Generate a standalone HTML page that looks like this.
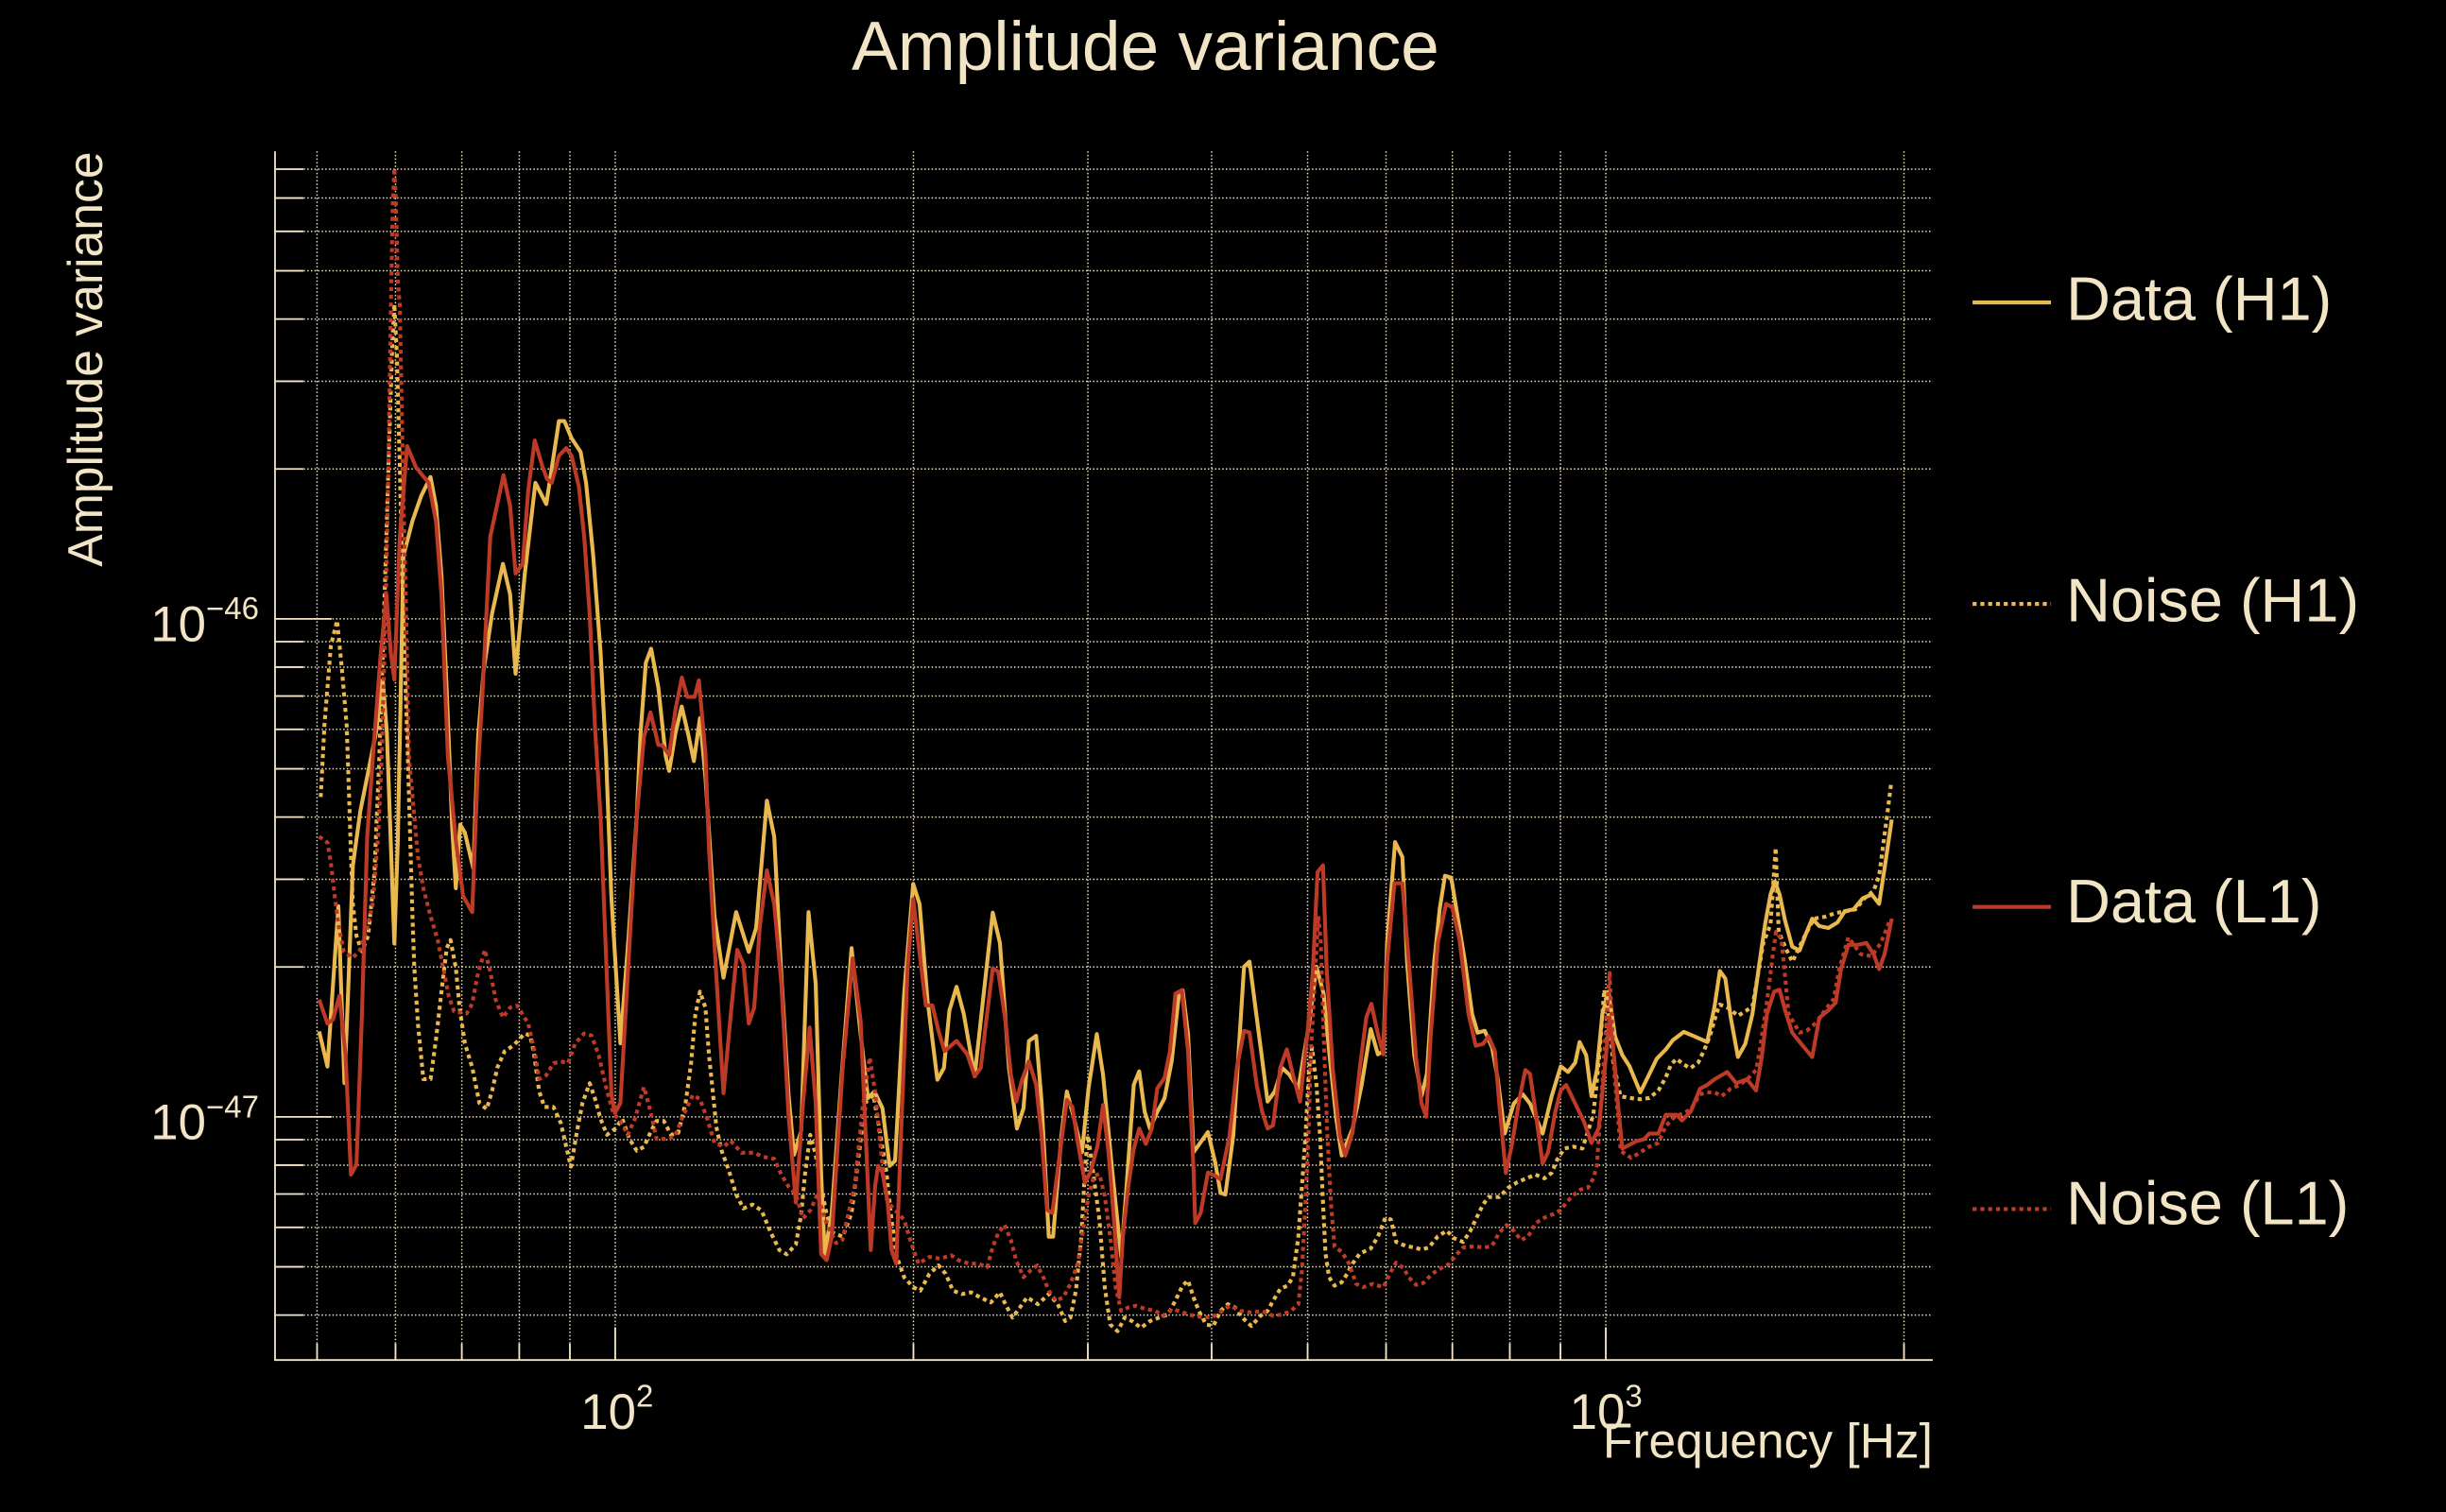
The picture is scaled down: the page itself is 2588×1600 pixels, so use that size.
<!DOCTYPE html>
<html>
<head>
<meta charset="utf-8">
<style>
html,body{margin:0;padding:0;background:#000;}
svg{display:block;}
text{font-family:"Liberation Sans",Arial,Helvetica,sans-serif;fill:#F2E5C6;}
</style>
</head>
<body>
<svg width="2588" height="1600" viewBox="0 0 1568 969.43" preserveAspectRatio="none" xmlns="http://www.w3.org/2000/svg">
<rect x="0" y="0" width="1568" height="969.43" fill="#000"/>

<!-- grid -->
<g stroke="#EFE3C4" stroke-width="0.9" stroke-dasharray="0.9 1.4" fill="none">
<path d="M203.25 97V872M253.53 97V872M296.04 97V872M332.86 97V872M365.34 97V872M394.4 97V872M585.55 97V872M697.37 97V872M776.71 97V872M838.25 97V872M888.53 97V872M931.04 97V872M967.86 97V872M1000.34 97V872M1029.4 97V872M1220.55 97V872"/>
<path d="M176.3 843.16H1239M176.3 812.22H1239M176.3 786.94H1239M176.3 765.56H1239M176.3 747.04H1239M176.3 730.71H1239M176.3 716.1H1239M176.3 619.98H1239M176.3 563.76H1239M176.3 523.86H1239M176.3 492.92H1239M176.3 467.64H1239M176.3 446.26H1239M176.3 427.74H1239M176.3 411.41H1239M176.3 396.8H1239M176.3 300.68H1239M176.3 244.46H1239M176.3 204.56H1239M176.3 173.62H1239M176.3 148.34H1239M176.3 126.96H1239M176.3 108.44H1239"/>
</g>

<!-- axes -->
<g stroke="#F2E5C6" stroke-width="1.1" fill="none">
<path d="M176.3 97V872.5M175.8 872H1239"/>
<path d="M176.3 843.16H194.5M176.3 812.22H194.5M176.3 786.94H194.5M176.3 765.56H194.5M176.3 747.04H194.5M176.3 730.71H194.5M176.3 716.1H212.6M176.3 619.98H194.5M176.3 563.76H194.5M176.3 523.86H194.5M176.3 492.92H194.5M176.3 467.64H194.5M176.3 446.26H194.5M176.3 427.74H194.5M176.3 411.41H194.5M176.3 396.8H212.6M176.3 300.68H194.5M176.3 244.46H194.5M176.3 204.56H194.5M176.3 173.62H194.5M176.3 148.34H194.5M176.3 126.96H194.5M176.3 108.44H194.5"/>
<path d="M203.25 872V861.5M253.53 872V861.5M296.04 872V861.5M332.86 872V861.5M365.34 872V861.5M394.4 872V851M585.55 872V861.5M697.37 872V861.5M776.71 872V861.5M838.25 872V861.5M888.53 872V861.5M931.04 872V861.5M967.86 872V861.5M1000.34 872V861.5M1029.4 872V851M1220.55 872V861.5"/>
</g>

<!-- series -->
<g fill="none" stroke-width="2.5" stroke-linejoin="round">
<polyline stroke="#E9B84F" points="204.6,661.3 209.9,683.8 216.9,581 220.8,694.5 223,640 226.2,555 231,520 236,495 241,470 245.4,436 248,470 250.5,540 252.8,605 255,540 258.6,356.5 264.4,334 270,318 276,305.8 279.5,324.4 283,369 286.4,443 289.9,531 292.2,569.5 295,528.7 298,533.8 303.4,556.8 306.5,472.6 310,430 315.4,393.6 322.4,361.5 327,381 330.5,432 336.3,369 343.2,309.6 350.2,323.2 358.3,270 361.8,270 366.4,281 372.2,289.8 375.7,309.6 380.3,356.5 385,418.4 388.5,484.6 391.9,574.6 397.7,669 403,600 408.2,523.6 410.5,472 414,425 417.4,415.9 422,440.6 426.7,484.6 429,494.3 433,470 437,453 441,470 444.8,488 448.7,460.4 452.2,498 458,587.4 463.8,626.9 471.9,584.8 480,610.3 484.7,595 491.6,513.4 496.3,536.4 500.9,625.6 505.5,702 509,740.4 513.6,725 518.3,584.8 522.9,630.7 526.4,753 528.7,804 533.2,777.7 539.5,690 545.9,607.9 551.7,663 556.4,704 560.6,699.8 565.7,710.6 570.3,747.5 573.8,744.2 579.6,637.1 585.4,566.7 589.5,579.7 594.6,641.4 600.9,692.3 605.1,684.7 608.6,647.9 613.2,632.7 617.8,650 624.8,690.1 630.6,637.1 636.4,585.1 641,604.6 646.8,684.7 651.9,723.6 656.1,710.6 659.6,667.4 664.2,664.1 667.7,706.3 672.3,792.9 675.1,792.9 680.4,728 683.9,699.8 688.5,717.1 693.6,738.8 697.8,697.7 703.1,663 707.1,689 712.9,749.6 718.7,805.9 722.2,760.4 726.8,695.5 730.3,686.9 733.8,712.8 737.2,723.6 741.9,712.8 746.5,704.2 751.1,680.4 755.8,637.1 758.1,634.9 761.6,663 765.1,738.8 774.3,725.8 779,745.3 782.4,764.8 785.5,765.9 790.6,728 797.5,619.8 801,616.5 805.6,652.2 812.6,706.3 817.2,699.8 821.9,684.7 826.5,689 832.3,697.7 839.2,656.5 843.9,619.8 848.5,637.1 852,673.9 856.6,717.1 860.1,740.9 867.1,723.6 872.9,695.5 878.7,659.8 883.3,676 886.8,673.9 889.2,604.6 894.3,539.9 899,549.5 902,616.6 906.6,676.5 911.3,702.8 914.7,688.5 919.4,616.6 922.9,583 926.3,561.5 930.3,562.7 934.4,587.8 939.1,616.6 943.7,650.1 947.2,662.1 951.8,660.9 956.5,671.7 960,690.9 964.6,726.8 970.4,707.6 976.2,701.6 980.8,707.6 988.9,726.8 994.7,702.8 1000.5,683.7 1005.2,687.3 1009.8,681.3 1012.6,668.1 1016.8,676.5 1020.2,702.8 1023.7,686.1 1027.2,650.1 1031.1,635.8 1035.3,664.5 1040,676.5 1044.6,683.7 1051.5,700.4 1056.2,690.9 1062,678.9 1067.8,672.9 1072.4,666.9 1079.4,661.6 1086.3,664.5 1094.4,668.1 1099.1,645.3 1102.5,622.6 1106,627.4 1109.5,652.5 1114.1,677.7 1118.8,669.3 1123.4,650.1 1128,616.6 1131.5,592.6 1135,573.5 1137.8,565.1 1140.8,573.5 1144.3,590.2 1148.9,607 1153.6,609.4 1158.2,597.4 1161.7,589 1166.3,593.8 1172.1,595 1177.9,591.4 1182.6,584.2 1188.3,583 1194.1,575.9 1199.9,573.5 1204.6,579.5 1208.1,556.7 1212.7,525.5"/>

<polyline stroke="#E9B84F" stroke-dasharray="2.6 2.4" points="205.6,511 208,464.5 212.1,414 216.1,397.9 219.1,428.2 222.2,464.5 223.8,510.9 225,549 226.2,579.7 228.5,600 232,610 236,600 240,560 243,490 246,400 249,300 251.5,220 252.8,195 254.5,230 256.3,300 258.6,400 261,470 263.3,549.1 264.4,587.4 265.6,620.5 267.9,656.2 271.4,691.9 276,691.9 279.5,666.4 283,635.8 286.4,607.8 288.8,602.7 292.2,620.5 294.6,646 298,669 302.7,684.3 307.3,707.2 312,711.1 315.4,699.6 318.9,684.3 323.5,674 329.3,670.2 336.3,662.6 339.8,663.9 342.1,674 345.6,699.6 349,709.8 354.8,709.8 359.5,720 363,735.3 366,748 369.9,725.1 373.4,707.2 378,694.5 381.5,704.7 385,717.4 389.1,727.6 394.2,723.8 398.9,717.4 403.5,730.2 408.2,737.8 412.8,735.3 417.4,725.1 420.9,718.7 425.5,718.7 430.2,727.6 434.8,726.3 439.5,707.2 443,681.7 445.7,651.1 448.7,635.8 452.2,646 454.5,676.6 456.9,699.6 459.2,722.5 462.6,737.8 467.3,750.6 471.9,765.9 476.6,774.8 482.4,772.3 488.2,776.1 494,790.1 499.7,801.6 504.4,804.2 510.2,797.8 513.6,778.6 516,753.1 519.4,727.6 522.9,740.4 526.4,760.8 529.9,778.6 533,790 540.2,792.9 545.9,777.7 549.4,749.6 552.9,721.5 555.2,706.3 559.9,702 563.3,721.5 568,749.6 571.5,782.1 574.9,805.9 579.6,818.9 585.4,825.3 590,827.5 595.8,816.7 601.6,811.3 606.2,816.7 610.9,827.5 616.7,829.7 622.5,828.6 628.3,831.8 635.2,835.1 641,828.6 644.5,836.2 649.1,844.8 653.8,838.3 658.4,831.8 665.4,836.2 672.3,829.7 678.1,836.2 682.8,847 686.2,844.8 689.7,827.5 693.2,792.9 695.5,749.6 697.4,728 699,738.8 704.8,782.1 708.2,825.3 711.7,849.2 716.4,853.5 721,844.8 725.6,847 731.4,851.3 737.2,847 743,844.8 748.8,842.7 753.4,834 758.1,824.3 761.6,821 765.1,831.8 768.5,840.5 773.2,849.2 777.8,850.2 782.4,840.5 787.1,836.2 791.7,838.3 796.4,844.8 802.2,850.2 807.9,843.7 812.6,840.5 816.1,834 820.7,826.4 825.3,824.3 828.8,818.9 832.3,792.9 834.6,760.4 836.9,728 839.2,684.7 841.1,671.7 843.9,695.5 846.2,728 848.1,771.2 849.7,803.7 852,818.9 855.5,824.3 860.1,822.1 863.6,816.7 867.1,810.2 871.7,803.7 878.7,800.5 883.3,792.9 888.1,780.7 891.6,781.9 895,796.3 900.8,798.7 906.6,799.9 911.3,801.1 915.9,799.9 921.7,792.7 927.5,789.1 932.1,793.9 937.9,796.3 942.6,789.1 946,781.9 950.7,772.3 954.2,767.5 961.1,767.5 966.9,761.5 972.7,758 978.5,755.5 984.3,753.1 990.1,755.5 994.7,752 998.2,743.6 1002.8,736.4 1008.6,735.2 1014.4,736.4 1021.4,714.8 1025,680 1028.4,634.6 1031,650 1034,680 1038.8,702.8 1044.6,704 1051.5,704.8 1057.3,704 1063.1,699.2 1067.8,690.9 1071.2,682.5 1074.7,678.9 1079.4,682.5 1083.5,684.9 1088.6,681.3 1092.1,674.1 1096.1,664.5 1100.2,650.1 1102.5,644.1 1108.3,646.5 1114.1,651.3 1119.9,647.7 1123.4,645.3 1130.4,604.6 1135,592.6 1138.3,543.5 1140.2,597.4 1145.4,609.4 1149,616.6 1153.6,607 1157.1,599.8 1162.8,589 1169.9,587.8 1176.7,585.4 1183.7,584.2 1189.5,583 1195.3,575.9 1201.1,571.1 1204.6,561.5 1210.3,518.4 1212.2,503"/>

<polyline stroke="#BD3A27" points="204.6,640.9 209.9,656.2 213.4,653.7 217.6,638.4 221.5,676.6 225,753.1 228.5,746.8 232,651 235.4,536.4 240,472.6 244,420 247.7,381.3 250.5,418.4 252.8,435.7 256.3,344 261,286 266.7,299.7 274.8,309.6 279.5,334.3 283,381.3 287.1,484.6 292.2,539 296.9,574.6 302.7,584.8 306.1,498.1 309,450 314.3,344 322.8,304.6 327,324.4 330.5,367.7 335.1,361.5 338.6,314.5 342.8,282.4 347.9,299.7 350.7,307.1 353.7,309.6 358.3,292.2 363,287.3 366.4,292.2 371.1,312 374.5,344.2 378,393.6 381.5,467.8 385,523.6 388.5,612.9 392,702.1 394.2,713.6 397.7,707.2 402.4,625.6 408.2,523.6 412.8,472.6 417,456.7 422,477.6 424.4,477.7 429,484 433,455 437.1,434.4 440.6,446.8 445.3,446.8 448,436.2 452.2,482.6 454.5,544 459.2,625.6 463.8,700.9 468.4,651.1 472.6,609 476.6,618 480,656.2 483.5,646 487,595 491.6,558 496.3,579.7 500.9,630.7 505.5,714.9 510.2,771 514.8,707.2 519,658.8 522.9,707.2 526.4,804 529.9,808 533.2,792.9 540.2,684.7 546.6,614.4 551.7,654.4 556.4,760.4 558.2,801.5 561,760.4 562.9,747.5 565.7,751.8 569.1,771.2 571.5,801.5 574.5,810.2 578.4,706.3 581.9,619.8 585.4,576.5 590,615.4 593.5,644.6 597.7,644.6 601.6,660.9 605.5,673.9 613.2,667.4 620.1,676 624.8,690.1 628.7,684.7 631.7,658.7 636.4,620.8 639.9,623 644.5,654.4 648,689 651.4,706.3 654.9,693.3 659.6,680.4 664.2,695.5 667.7,728 671.2,775.6 674.6,777.7 678.1,749.6 683.9,705.2 687.4,709.6 690.9,732.3 695.5,758.3 699,751.8 703.6,734.5 707.1,708.5 710.6,738.8 714.1,782.1 717.5,831.8 719.8,792.9 723.3,760.4 726.8,736.6 730.3,723.6 734.5,733.4 738.4,723.6 741.9,697.7 746.5,691.2 750,673.9 753.5,637.1 757.6,634.9 761.6,673.9 765.1,749.6 766.2,784.2 769.7,777.7 774.3,751.8 779,753.9 782.4,756.1 788.2,728 792.9,684.7 797.5,660.9 801,662 805.6,695.5 809.1,712.8 812.6,723.6 816.1,721.5 820.7,684.7 824.9,672.8 828.8,689 833.4,706.3 838.1,663 841.5,624.1 844.6,559.2 848.1,554.8 850.4,619.8 854.3,684.7 858.9,728 862.4,740.9 867.1,725.8 871.7,684.7 875.9,652.2 879.1,643.6 883.3,663 886.8,676 889.2,616.6 893.9,566.3 899,566.3 903.1,616.6 907.8,678.9 911.3,707.6 914.3,716 917.1,664.5 921.7,604.6 927,579.5 931,581.8 935.6,602.2 941.4,650.1 946,670.5 950.7,669.3 954.2,664.5 958.3,674.1 961.1,707.6 965.3,752 969.2,734 973.9,705.2 977.8,686.1 980.8,688.5 984.3,712.4 988.9,746 992.4,738.8 997.1,712.4 1000.5,699.2 1004,695.6 1009.8,707.6 1015.6,719.6 1020.2,732.8 1024.9,723.2 1028.4,688.5 1031.8,652.5 1034.8,678.9 1037.6,712.4 1040,736.4 1044.6,734 1049.2,731.6 1053.9,730.4 1057.3,726.8 1063.1,726.8 1067.8,714.8 1074.7,714.8 1078.2,718.4 1084,712.4 1089.8,698 1094.4,695.6 1099.1,692 1107.2,687.3 1113,694.5 1119.9,692 1125.7,699.2 1129.2,678.9 1132.7,650.1 1137.3,635.8 1140.8,634.6 1144.3,647.7 1148.9,662.1 1154.7,669.3 1161.7,677.7 1166.3,652.5 1172.1,647.7 1176.7,643 1180.2,621.4 1184.9,605.8 1190.6,605.8 1196.4,604.6 1201.1,611.8 1204.6,621.4 1208.1,611.8 1212.7,589"/>

<polyline stroke="#BD3A27" stroke-dasharray="2.6 2.4" points="204.6,536.4 209.9,540.2 212.2,554.2 214.6,574.6 216.9,592.5 220.4,610.3 226.2,614.1 230.8,609 235.4,595 238.9,579.7 242.4,536.4 244.7,485.4 247,400 249,300 250.5,200 251.8,130 252.8,108 253.8,130 255,180 256.3,195.8 257.5,260 258.6,319.5 260.5,400 262.1,484.6 265.6,523.6 267.9,549.1 271.4,569.5 276,587.4 280.6,602.7 284.1,620.5 287.6,638.4 291.1,648.6 299.2,649.8 302.7,643.5 306.1,625.6 310.8,609 314.3,623 317.7,640.9 322.4,652.4 327,646 331.6,644.8 338.6,656.2 343.2,676.6 345.6,691.9 350.2,689.4 354.8,681.7 359.5,680.5 364.1,681.7 368.7,669 374.5,662.6 379.2,663.9 383.8,676.6 388.5,697 393.1,713.6 397.7,718.7 402.4,727.6 407,717.4 412.8,697 416.3,709.8 420.9,730.2 426.7,730.2 432.5,728.9 437.1,717.4 444.1,702.1 448.7,704.7 453.4,717.4 458,732.7 463.8,735.3 468.4,731.5 475.4,739.1 483.5,739.1 489.3,741.7 496.3,743 500.9,753.1 505.5,760.8 510.2,765.9 514.8,781.2 519.4,776.1 524,765.9 530,785 536,797 540,795 548,760 553,710 557.5,678 561,700 565,740 568,768 571.5,773.4 579.6,782.1 584.2,797.2 588.8,810.2 595.8,805.9 602.8,807 609.7,804.8 614.4,808 621.3,810.2 627.1,810.2 632.9,812.4 636.4,799.4 639.9,790.7 644,785.3 648,795 651.4,808 656.1,818.9 660.7,814.5 664.9,811.3 668.8,818.9 672.3,827.5 676.9,834 681.6,831.8 686.2,823.2 690.9,810.2 694.3,788.6 697.8,766.9 701.3,753.9 704.8,752.8 708.2,766.9 711.7,792.9 715.2,825.3 718.7,840.5 723.3,838.3 727.9,837.2 734.9,839.4 740.7,840.5 745.4,843.7 751.1,839.4 755.8,840.5 762.7,843.1 769.7,844.4 776.6,844.8 783.6,840.5 788.2,837.2 795.2,840.5 802.2,841.6 809.1,840.5 816.1,843.7 822,842.7 827.6,840.5 832.3,836.2 834.6,814.5 836.9,771.2 838.8,728 840.4,673.9 842.7,630.6 845,587.3 846.7,604.6 848.5,663 850.9,728 853.2,771.2 855.5,799.4 860.1,802.6 864.8,810.2 869.4,823.2 874,825.3 879.8,823.2 886.8,825.3 891.6,815.4 895,809.5 899.7,813 903.1,819 907.8,823.8 912.4,822.6 918.2,816.6 924,813 928.7,810.6 933.3,804.7 937.9,799.9 944.9,799.1 951.8,799.9 956.5,798.7 961.1,790.3 965.8,785.5 970.4,789.1 975,795.1 979.7,792.7 984.3,784.3 990.1,780.7 995.9,778.3 1000.5,775.9 1004,771.1 1008.6,766.3 1013.3,762.7 1017.9,761.5 1021.4,755.5 1023.7,747.2 1027.5,690 1031.8,623.8 1035,690 1039,738 1045.7,742.4 1051.5,738.8 1057.3,735.2 1063.1,732.8 1067.8,722 1073.6,716 1079.4,713.6 1084,711.2 1089.8,701.6 1094.4,700.4 1099.1,700.4 1103.7,702.8 1109.5,698 1115.3,695.6 1121.1,690.9 1125.7,686.1 1128,674.1 1133,640 1136.2,614.2 1138.5,597.4 1142,602.2 1146.6,650.1 1153.6,662.1 1158.2,660.9 1165.2,654.9 1169.9,647.7 1175.5,640.5 1179,621.4 1184.9,601 1192.9,611.8 1199.9,613 1205.7,604.6 1211.5,590.2"/>
</g>

<!-- title & labels -->
<text x="734.3" y="44.8" font-size="44.3" text-anchor="middle">Amplitude variance</text>
<text transform="translate(65.3,230.3) rotate(-90)" font-size="31.3" text-anchor="middle">Amplitude variance</text>

<text x="96.5" y="411" font-size="32">10<tspan dy="-14" font-size="20">−46</tspan></text>
<text x="96.5" y="730.5" font-size="32">10<tspan dy="-14" font-size="20">−47</tspan></text>

<text x="395.5" y="916" font-size="32" text-anchor="middle">10<tspan dy="-14" font-size="20">2</tspan></text>
<text x="1029.5" y="916" font-size="32" text-anchor="middle">10<tspan dy="-14" font-size="20">3</tspan></text>
<text x="1239" y="934.5" font-size="31.2" text-anchor="end">Frequency [Hz]</text>

<!-- legend -->
<g stroke-width="2.5">
<line x1="1264.5" y1="193.9" x2="1314.8" y2="193.9" stroke="#E9B84F"/>
<line x1="1264.5" y1="387.2" x2="1314.8" y2="387.2" stroke="#E9B84F" stroke-dasharray="2.6 2.4"/>
<line x1="1264.5" y1="581.5" x2="1314.8" y2="581.5" stroke="#BD3A27"/>
<line x1="1264.5" y1="775.2" x2="1314.8" y2="775.2" stroke="#BD3A27" stroke-dasharray="2.6 2.4"/>
</g>
<text x="1324.5" y="205" font-size="39.3">Data (H1)</text>
<text x="1324.5" y="398.3" font-size="39.3">Noise (H1)</text>
<text x="1324.5" y="591.5" font-size="39.3">Data (L1)</text>
<text x="1324.5" y="785" font-size="39.3">Noise (L1)</text>
</svg>
</body>
</html>
